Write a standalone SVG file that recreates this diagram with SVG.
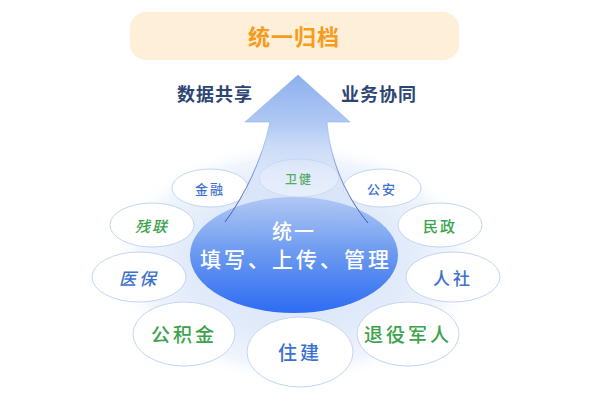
<svg xmlns="http://www.w3.org/2000/svg" width="596" height="408" viewBox="0 0 596 408">
<defs>
<radialGradient id="glow" cx="296" cy="262" r="185" gradientUnits="userSpaceOnUse" gradientTransform="translate(296 262) scale(1 0.66) translate(-296 -262)">
<stop offset="0" stop-color="#d3e1f8"/>
<stop offset="0.6" stop-color="#e2ebfa"/>
<stop offset="0.85" stop-color="#f0f5fd"/>
<stop offset="1" stop-color="#ffffff" stop-opacity="0"/>
</radialGradient>
<linearGradient id="arrowG" x1="0" y1="75" x2="0" y2="235" gradientUnits="userSpaceOnUse">
<stop offset="0" stop-color="#8cafee"/>
<stop offset="0.3" stop-color="#abc6f3" stop-opacity="0.95"/>
<stop offset="0.6" stop-color="#cddcf7" stop-opacity="0.6"/>
<stop offset="1" stop-color="#dce7fa" stop-opacity="0.45"/>
</linearGradient>
<linearGradient id="coreG" x1="0" y1="198" x2="0" y2="313" gradientUnits="userSpaceOnUse">
<stop offset="0" stop-color="#a9c3f4" stop-opacity="0.9"/>
<stop offset="0.45" stop-color="#6f9cf0"/>
<stop offset="1" stop-color="#2d6cf3"/>
</linearGradient>
<linearGradient id="lineG" x1="0" y1="140" x2="0" y2="224" gradientUnits="userSpaceOnUse">
<stop offset="0" stop-color="#4a6fc8" stop-opacity="0"/>
<stop offset="0.4" stop-color="#4a6fc8" stop-opacity="0.6"/>
<stop offset="1" stop-color="#2e56b8"/>
</linearGradient>
</defs>
<style>
.bub{fill:#ffffff;stroke:#c3d6f0;stroke-width:1}
.t{font-family:"Noto Sans CJK SC","Noto Sans",sans-serif;text-anchor:middle;dominant-baseline:central;font-weight:500}
.blue{fill:#3d6fce}
.green{fill:#3ba24c}
.hdr{font-weight:bold;fill:#2c4572;font-size:18px;letter-spacing:1px}
</style>
<rect width="596" height="408" fill="#ffffff"/>

<g id="banner">
<rect x="130" y="12" width="329" height="48" rx="16" fill="#fdefd8"/>
<text class="t" x="294" y="35" font-size="22" font-weight="bold" fill="#f59c1c" letter-spacing="1" style="font-weight:bold">统一归档</text>
</g>

<g id="label-share"><text class="t hdr" x="215" y="93">数据共享</text></g>
<g id="label-collab"><text class="t hdr" x="379" y="93">业务协同</text></g>

<g id="glow-bg">
<ellipse cx="296" cy="262" rx="185" ry="122" fill="url(#glow)"/>
</g>

<g id="n-jinrong"><ellipse class="bub" cx="210" cy="188" rx="38" ry="19"/><text class="t blue" x="210" y="188" font-size="13" letter-spacing="2">金融</text></g>
<g id="n-weijian"><ellipse class="bub" cx="299" cy="178" rx="40" ry="19"/></g>
<g id="n-gongan"><ellipse class="bub" cx="382" cy="188" rx="39" ry="19"/><text class="t blue" x="382" y="188" font-size="13" letter-spacing="2">公安</text></g>
<g id="n-canlian"><ellipse class="bub" cx="152" cy="225" rx="42" ry="22"/><text class="t green" x="152" y="225" font-size="15" letter-spacing="2" font-style="italic">残联</text></g>
<g id="n-minzheng"><ellipse class="bub" cx="440" cy="225" rx="42" ry="22"/><text class="t green" x="440" y="225" font-size="15" letter-spacing="2">民政</text></g>
<g id="n-yibao"><ellipse class="bub" cx="139" cy="277" rx="47" ry="25"/><text class="t blue" x="139" y="277" font-size="17" letter-spacing="3" font-style="italic">医保</text></g>
<g id="n-renshe"><ellipse class="bub" cx="453" cy="277" rx="47" ry="25"/><text class="t blue" x="453" y="277" font-size="17" letter-spacing="3">人社</text></g>
<g id="n-gongjijin"><ellipse class="bub" cx="184" cy="334" rx="51" ry="32"/><text class="t green" x="184" y="333" font-size="19" letter-spacing="3">公积金</text></g>
<g id="n-zhujian"><ellipse class="bub" cx="300" cy="352" rx="53" ry="35"/><text class="t blue" x="300" y="351" font-size="19" letter-spacing="3">住建</text></g>
<g id="n-tuiyi"><ellipse class="bub" cx="408" cy="334" rx="51" ry="32"/><text class="t green" x="408" y="333" font-size="19" letter-spacing="3">退役军人</text></g>

<g id="arrow">
<path d="M298,75 L350,122 L327,122 C330,160 345,195 368,223 L368,245 L225,245 L225,222 C245,195 262,160 270,122 L245,122 Z" fill="url(#arrowG)" stroke="#8eaee6" stroke-width="0.8" stroke-opacity="0.7"/>
</g>

<g id="n-weijian-label"><text class="t green" x="299" y="178" font-size="12" letter-spacing="2" opacity="0.85">卫健</text></g>

<g id="core">
<ellipse cx="294" cy="255" rx="104" ry="58" fill="url(#coreG)"/>
<text class="t" x="294" y="230" font-size="20" fill="#ffffff" letter-spacing="2">统一</text>
<text class="t" x="296" y="258" font-size="21" fill="#ffffff" letter-spacing="3">填写、上传、管理</text>
</g>

<g id="connectors">
<path d="M225,222 C245,195 262,160 270,122" fill="none" stroke="url(#lineG)" stroke-width="1"/>
<path d="M368,223 C345,195 330,160 327,122" fill="none" stroke="url(#lineG)" stroke-width="1"/>
</g>
</svg>
